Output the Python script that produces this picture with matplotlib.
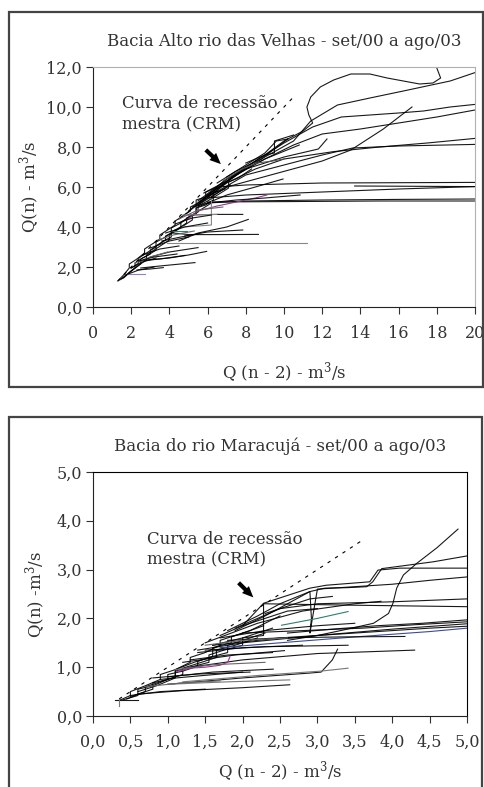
import matplotlib
matplotlib.use("Agg")
import matplotlib.pyplot as plt
from matplotlib.patches import Rectangle
from matplotlib.ticker import FuncFormatter

plt.rcParams['font.family'] = ['DejaVu Serif']
plt.rcParams['mathtext.fontset'] = 'dejavuserif'

# ---------------- data: Alto rio das Velhas ----------------
alto_title = "Bacia Alto rio das Velhas - set/00 a ago/03"
alto_xticks = [0, 2, 4, 6, 8, 10, 12, 14, 16, 18, 20]
alto_yticks = [0, 2, 4, 6, 8, 10, 12]
alto_crm_x = [1.3, 10.6]
alto_crm_y = [1.3, 10.6]

alto_x = [
    [1.3,1.6,1.9,1.9,2.3,2.7,2.7,3.1,3.5,3.5,3.9,4.3,4.3,4.7,5.1,5.1,5.5,5.9,5.9,6.4,7.0,7.6],
    [1.4,1.8,2.2,2.2,2.6,3.0,3.0,3.4,3.8,3.8,4.2,4.6,4.6,5.0,5.4,5.4,5.9,6.3,6.3,6.9],
    [1.5,2.0,2.5,2.5,2.9,3.3,3.3,3.7,4.1,4.1,4.5,4.9,4.9,5.4,5.4,5.9,6.5],
    [1.6,2.0,2.4,2.8,2.8,3.2,3.6,4.0,4.0,4.4,4.8,5.2,5.2,5.7,6.2,6.2,6.6,7.2],
    [2.0,2.4,2.4,2.8,3.3,3.3,3.7,4.1,4.1,4.6,5.0,5.5,5.5,6.0,6.6,7.1,7.1,7.6,8.3],
    [5.0,6.0,7.0,8.0,9.0,10.0,11.0,11.5,11.3,11.2,11.4,11.9,12.6,13.5,14.5,15.4,17.1,17.8,18.2,18.0],
    [4.5,6.0,7.5,9.0,10.5,11.4,12.8,14.5,16.25,18.7,20.0],
    [5.5,7.0,8.5,10.0,11.5,13.0,14.5,16.0,17.3,18.7,20.0],
    [6.0,7.5,9.0,10.5,12.0,14.0,16.0,18.0,20.0],
    [5.5,7.0,8.5,10.0,12.6,15.0,17.5,20.0],
    [6.0,8.0,10.0,12.0,13.6,16.0,20.0],
    [5.5,7.0,9.3,12.0,13.5,15.2,16.7],
    [5.8,6.5,8.0,12.0,20.0],
    [13.7,20.0],
    [6.0,8.0,12.0,16.0,20.0],
    [5.2,6.0,8.0,12.0,16.0,20.0],
    [6.0,10.0,15.0,20.0],
    [4.9,5.5,6.5,7.5,8.5,9.1],
    [6.0,7.5,9.0,10.84],
    [5.5,7.0,8.5,9.95],
    [6.0,8.0,10.0,11.8,12.25],
    [5.5,7.0,9.0,10.8],
    [4.2,5.0,6.5,8.66],
    [3.9,6.0,9.0,11.19],
    [4.5,5.5,7.0,8.13],
    [4.8,6.0,7.84],
    [5.0,6.5,7.84],
    [2.8,4.0,5.0,5.95],
    [3.0,4.0,5.5],
    [2.5,3.5,5.34],
    [2.5,3.5,4.82],
    [2.3,3.0,3.68],
    [1.8,2.72],
    [4.7,5.5,6.2,6.2],
    [4.7,6.48],
    [3.6,4.6,5.5],
    [4.1,4.9],
    [2.0,2.6,3.3],
    [2.2,3.0,3.9],
    [2.6,3.5,4.5],
    [3.0,4.0,5.0],
    [3.4,4.2,5.3],
    [3.8,4.8,6.0],
    [4.3,5.2,6.2],
    [4.5,5.5,6.8],
    [1.7,2.4,3.2],
    [2.4,3.2,4.4],
    [6.5,7.5,8.8,10.2],
    [7.0,8.0,9.0,9.6,10.2],
    [8.0,9.0,9.5,9.5,10.5],
    [6.8,7.8,8.6,9.4,10.0],
]
alto_y = [
    [1.3,1.6,1.95,2.15,2.4,2.7,2.9,3.15,3.4,3.6,3.85,4.1,4.3,4.55,4.8,5.0,5.2,5.45,5.75,6.0,6.3,6.7],
    [1.35,1.65,1.95,2.2,2.45,2.65,2.85,3.1,3.35,3.55,3.75,4.0,4.25,4.45,4.7,4.95,5.1,5.35,5.7,5.9],
    [1.4,1.8,2.15,2.4,2.6,2.85,3.05,3.3,3.5,3.75,3.95,4.2,4.45,4.65,5.35,5.5,5.8],
    [1.45,1.8,2.1,2.35,2.6,2.85,3.1,3.35,3.6,3.85,4.1,4.35,4.6,4.9,5.2,5.5,5.75,6.1],
    [1.95,2.2,2.45,2.7,3.0,3.25,3.45,3.7,3.95,4.2,4.5,4.75,5.05,5.3,5.65,5.95,6.25,6.45,6.9],
    [4.8,5.6,6.4,7.0,7.6,8.3,8.8,9.2,9.6,10.0,10.5,11.0,11.35,11.65,11.65,11.45,11.15,11.2,11.45,11.95],
    [4.4,5.5,6.6,7.5,8.3,9.3,10.1,10.45,10.8,11.3,11.72],
    [5.2,6.3,7.3,8.2,9.0,9.5,9.6,9.7,9.8,10.0,10.13],
    [5.6,6.6,7.4,8.1,8.65,8.9,9.2,9.5,9.85],
    [5.1,6.2,6.9,7.4,7.77,8.0,8.2,8.43],
    [5.5,6.6,7.1,7.6,7.95,8.05,8.13],
    [5.1,6.0,6.6,7.3,7.85,8.9,10.0],
    [5.7,6.0,6.1,6.2,6.23],
    [6.05,6.02],
    [5.45,5.6,5.75,5.9,6.02],
    [5.0,5.2,5.3,5.35,5.38,5.4],
    [5.25,5.27,5.3,5.3],
    [4.35,4.8,5.05,5.25,5.45,5.6],
    [5.2,5.35,5.45,5.6],
    [5.0,5.6,6.0,6.4],
    [5.6,6.9,7.5,7.9,8.4],
    [5.3,6.4,7.4,8.1],
    [3.7,3.62,3.62,3.63],
    [3.2,3.2,3.2,3.2],
    [3.3,3.7,4.0,4.38],
    [3.55,3.75,3.85],
    [4.6,4.63,4.63],
    [2.35,2.45,2.6,2.78],
    [2.5,2.75,2.97],
    [1.95,2.05,2.22],
    [2.3,2.4,2.58],
    [1.85,1.9,1.97],
    [1.67,1.67],
    [4.0,4.05,4.1,5.4],
    [4.6,4.63],
    [3.3,3.5,3.65],
    [3.8,3.8],
    [1.95,2.25,2.45],
    [2.2,2.5,2.75],
    [2.6,2.9,3.05],
    [2.95,3.3,3.5],
    [3.35,3.6,3.8],
    [3.7,4.0,4.2],
    [4.15,4.45,4.6],
    [4.4,4.85,5.0],
    [1.6,1.85,2.0],
    [2.3,2.5,2.65],
    [6.2,6.8,7.4,8.4],
    [6.5,7.1,7.7,8.3,8.4],
    [7.2,7.6,7.7,8.3,8.6],
    [6.3,6.9,7.2,7.3,7.4],
]
alto_c = (['k'] * 17 + ['#8b3a8b'] + ['k'] * 5 + ['#888888'] + ['k'] * 8
          + ['#9a7fc0', '#888888', '#888888', 'k', '#2e7d6e']
          + ['k', '#666666', 'k', 'k', '#666666', 'k', 'k', '#666666', 'k', 'k', 'k', 'k', 'k', '#555555'])

# ---------------- data: rio Maracujá ----------------
mara_title = "Bacia do rio Maracujá - set/00 a ago/03"
mara_xticks = [0.0, 0.5, 1.0, 1.5, 2.0, 2.5, 3.0, 3.5, 4.0, 4.5, 5.0]
mara_yticks = [0.0, 1.0, 2.0, 3.0, 4.0, 5.0]
mara_crm_x = [0.35, 3.6]
mara_crm_y = [0.35, 3.6]

mara_x = [
    [0.35,0.5,0.5,0.7,0.9,0.9,1.1,1.3,1.3,1.5,1.7,1.7,1.9,2.1,2.3,2.5],
    [0.4,0.6,0.6,0.8,1.0,1.0,1.2,1.4,1.4,1.6,1.8,1.8,2.0,2.3],
    [0.45,0.7,0.7,0.9,1.1,1.1,1.3,1.55,1.55,1.75,2.0,2.0,2.2,2.4],
    [0.5,0.8,0.8,1.0,1.2,1.2,1.45,1.65,1.65,1.9,2.2],
    [0.6,0.85,1.1,1.1,1.35,1.6,1.6,1.85,1.85,2.1,2.28],
    [2.6,3.0,3.34,3.75,3.95,4.01,4.06,4.15,4.33,4.6,4.88],
    [1.8,2.2,2.5,2.9,3.1,3.4,3.66,3.74,3.86,4.55,5.0],
    [1.7,2.0,2.28,2.9,3.12,3.7,3.81,4.1,5.0],
    [1.9,2.3,2.9,2.92,2.9,3.0,3.5,4.0,4.5,5.0],
    [1.6,2.0,2.28,2.28,3.5,5.0],
    [1.9,2.5,3.0,3.5,4.0,4.5,5.0],
    [2.6,3.2,3.8,4.4,5.0],
    [2.0,2.8,3.6,4.3,5.0],
    [1.4,2.0,3.0,4.0,5.0],
    [1.6,2.5,3.5,4.5,5.0],
    [1.7,2.5,3.5,4.5,5.0],
    [2.52,3.0,3.41],
    [1.8,2.5,3.3,4.17],
    [1.3,2.0,3.0,4.3],
    [1.5,2.3,3.41],
    [1.0,2.0,2.9,3.05,3.2,3.27],
    [1.2,2.2,3.05,3.41],
    [0.6,1.2,2.0,2.63],
    [1.0,1.8,2.63],
    [1.0,1.6,2.41],
    [0.8,1.4,2.1],
    [1.2,1.9,2.56],
    [1.12,1.3,1.5,1.7,1.8,1.83],
    [1.5,2.2,2.8,3.5,3.85],
    [0.3,0.6],
    [0.35,0.35],
    [0.5,0.9,1.5],
    [0.7,1.2,1.7],
    [0.9,1.4,2.0],
    [1.1,1.6,2.3],
    [1.3,1.8,2.4],
    [1.4,2.0,2.8],
    [1.5,2.0,2.6],
    [1.7,2.3,3.0,3.5],
    [2.0,2.4,2.6,3.0],
    [2.3,2.6,2.9,3.2],
]
mara_y = [
    [0.32,0.42,0.5,0.62,0.75,0.85,0.95,1.1,1.2,1.3,1.45,1.55,1.65,1.75,1.9,2.05],
    [0.33,0.42,0.55,0.62,0.75,0.85,0.92,1.02,1.12,1.22,1.3,1.45,1.55,1.7],
    [0.35,0.5,0.6,0.7,0.8,0.92,1.0,1.1,1.25,1.35,1.45,1.6,1.7,1.8],
    [0.4,0.55,0.68,0.75,0.85,0.98,1.1,1.2,1.35,1.45,1.6],
    [0.5,0.62,0.78,0.95,1.1,1.22,1.4,1.5,1.62,1.75,1.85],
    [1.55,1.65,1.76,1.9,2.1,2.31,2.62,2.89,3.13,3.45,3.83],
    [1.75,2.05,2.3,2.55,2.62,2.63,2.65,2.75,3.02,3.16,3.28],
    [1.65,1.85,2.31,2.62,2.68,2.75,2.99,3.03,3.03],
    [1.75,2.05,2.55,2.0,1.7,2.6,2.65,2.7,2.78,2.85],
    [1.45,1.6,1.65,2.3,2.27,2.24],
    [1.8,2.2,2.3,2.32,2.34,2.37,2.4],
    [1.7,1.78,1.85,1.9,1.97],
    [1.7,1.75,1.8,1.87,1.93],
    [1.35,1.5,1.65,1.78,1.89],
    [1.45,1.6,1.7,1.8,1.84],
    [1.4,1.5,1.62,1.73,1.8],
    [1.86,2.0,2.14],
    [1.55,1.6,1.62,1.63],
    [1.0,1.15,1.28,1.35],
    [1.35,1.42,1.45],
    [0.65,0.78,0.88,0.9,1.15,1.37],
    [0.7,0.83,0.92,0.98],
    [0.45,0.52,0.58,0.64],
    [0.65,0.7,0.74],
    [0.8,0.9,0.96],
    [0.78,0.86,0.9],
    [1.1,1.25,1.34],
    [0.91,0.98,1.0,1.04,1.1,1.21],
    [1.5,1.9,2.15,2.3,2.35],
    [0.32,0.32],
    [0.2,0.35],
    [0.42,0.5,0.55],
    [0.6,0.68,0.72],
    [0.75,0.82,0.9],
    [0.95,1.05,1.1],
    [1.15,1.25,1.3],
    [1.3,1.4,1.45],
    [1.45,1.55,1.6],
    [1.6,1.75,1.85,1.9],
    [1.85,2.05,2.15,2.2],
    [2.1,2.25,2.4,2.45],
]
mara_c = (['k'] * 15 + ['#3a4a9a', '#2e7d6e'] + ['k'] * 4
          + ['#777777', 'k', '#777777', 'k', 'k', 'k', '#a0309a', 'k', 'k', '#777777']
          + ['k', '#666666', 'k', '#666666', 'k', 'k', '#666666', 'k', 'k', 'k'])

TXT = '#333333'
FS = 11.5
FT = 12
fig = plt.figure(figsize=(4.84, 7.87), dpi=100)

# outer frames
fig.add_artist(Rectangle((9/484, (787-387)/787), 474/484, 375/787, transform=fig.transFigure,
                         fill=False, lw=1.6, edgecolor='#444444'))
fig.add_artist(Rectangle((9/484, -0.01), 473/484, (787-417)/787 + 0.01, transform=fig.transFigure,
                         fill=False, lw=1.6, edgecolor='#444444'))


def comma(fmt):
    return FuncFormatter(lambda v, p: (fmt % v).replace('.', ','))


def draw(ax, xs, ys, cs, crm_x, crm_y):
    ax.plot(crm_x, crm_y, ls=(0, (3, 5)), color='k', lw=0.8)
    for x, y, c in zip(xs, ys, cs):
        ax.plot(x, y, color=c, lw=0.8, alpha=0.9 if c == 'k' else 1.0)


arrow_style = dict(arrowstyle='simple,head_width=0.7,head_length=0.8,tail_width=0.3', color='k', lw=0)

# ---- top panel ----
ax1 = fig.add_axes([93/484, (787-307)/787, 382/484, 240/787])
draw(ax1, alto_x, alto_y, alto_c, alto_crm_x, alto_crm_y)
ax1.set_xlim(0, 20)
ax1.set_ylim(0, 12)
ax1.set_xticks(alto_xticks)
ax1.set_yticks(alto_yticks)
ax1.yaxis.set_major_formatter(comma('%.1f'))
ax1.xaxis.set_major_formatter(FuncFormatter(lambda v, p: '%d' % v))
for s in ['top', 'right']:
    ax1.spines[s].set_color('#b0b0b0')
ax1.set_title(alto_title, fontsize=FT, color=TXT, pad=15)
ax1.set_xlabel('Q (n - 2) - m$^3$/s', fontsize=FT, color=TXT, labelpad=13)
ax1.set_ylabel('Q(n) - m$^3$/s', fontsize=FT, color=TXT, labelpad=3)
ax1.text(1.5, 10.6, 'Curva de recessão\nmestra (CRM)', fontsize=FT, color=TXT,
         va='top', ha='left', linespacing=1.3)
ax1.annotate('', xy=(6.8, 7.05), xytext=(5.8, 7.95), arrowprops=arrow_style)

# ---- bottom panel ----
ax2 = fig.add_axes([93/484, (787-716)/787, 374/484, 244/787])
draw(ax2, mara_x, mara_y, mara_c, mara_crm_x, mara_crm_y)
ax2.set_xlim(0, 5)
ax2.set_ylim(0, 5)
ax2.set_xticks(mara_xticks)
ax2.set_yticks(mara_yticks)
ax2.yaxis.set_major_formatter(comma('%.1f'))
ax2.xaxis.set_major_formatter(comma('%.1f'))
ax2.set_title(mara_title, fontsize=FT, color=TXT, pad=15)
ax2.set_xlabel('Q (n - 2) - m$^3$/s', fontsize=FT, color=TXT, labelpad=6)
ax2.set_ylabel('Q(n) -m$^3$/s', fontsize=FT, color=TXT, labelpad=6)
ax2.text(0.72, 3.8, 'Curva de recessão\nmestra (CRM)', fontsize=FT, color=TXT,
         va='top', ha='left', linespacing=1.3)
ax2.annotate('', xy=(2.17, 2.39), xytext=(1.92, 2.77), arrowprops=arrow_style)

for ax in (ax1, ax2):
    ax.tick_params(direction='out', length=5, width=0.8, labelsize=FS, colors=TXT, pad=8)
    ax.tick_params(axis='y', pad=3)
    ax.spines['left'].set_color('#222222')
    ax.spines['bottom'].set_color('#222222')

fig.savefig('out.png', dpi=100)
